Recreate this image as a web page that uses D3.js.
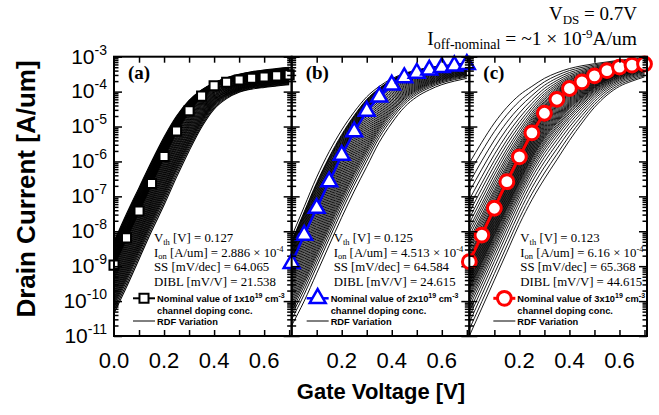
<!DOCTYPE html>
<html><head><meta charset="utf-8">
<script src="https://cdn.jsdelivr.net/npm/d3@7"></script>
<style>body{margin:0;background:#fff} svg{display:block}</style>
</head><body>
<svg id="chart" width="659" height="415"></svg>
<script>
// ---------------- data (log10 of drain current, A/um) ----------------
const gateVoltage = [0, 0.05, 0.1, 0.15, 0.2, 0.25, 0.3, 0.35, 0.4, 0.45, 0.5, 0.55, 0.6, 0.65, 0.7];

const nominalA = [-8.97, -8.19, -7.42, -6.63, -5.86, -5.13, -4.55, -4.13, -3.83, -3.73, -3.67, -3.62, -3.58, -3.55, -3.52];
const upperA   = [-8.3, -7.5, -6.75, -6.0, -5.3, -4.7, -4.25, -3.95, -3.75, -3.6, -3.5, -3.43, -3.38, -3.34, -3.3];
const lowerA   = [-10.35, -9.6, -8.8, -8.0, -7.25, -6.45, -5.7, -5.02, -4.5, -4.2, -4.02, -3.93, -3.88, -3.84, -3.8];
const rdfPosA  = [1.0, 0.94, 0.9, 0.85, 0.8, 0.76, 0.71, 0.67, 0.62, 0.58, 0.54, 0.49, 0.45, 0.41, 0.37, 0.33, 0.29, 0.25, 0.21, 0.17, 0.13, 0.09, 0.05, 0.01,
                  -0.03, -0.07, -0.11, -0.15, -0.19, -0.23, -0.27, -0.31, -0.35, -0.39, -0.43, -0.47, -0.51, -0.55, -0.59, -0.63, -0.67, -0.71, -0.75, -0.79, -0.83, -0.88, -0.94, -1.0];

const nominalB = [-8.92, -8.11, -7.34, -6.58, -5.82, -5.15, -4.56, -4.15, -3.81, -3.6, -3.47, -3.38, -3.31, -3.26, -3.22];
const upperB   = [-8.15, -7.3, -6.45, -5.72, -5.1, -4.58, -4.15, -3.85, -3.63, -3.48, -3.38, -3.31, -3.26, -3.22, -3.19];
const lowerB   = [-10.7, -10.0, -9.2, -8.4, -7.6, -6.85, -6.15, -5.45, -4.9, -4.45, -4.15, -3.95, -3.8, -3.7, -3.62];
const rdfPosB  = [1.0, 0.82, 0.78, 0.74, 0.7, 0.65, 0.6, 0.55, 0.5, 0.45, 0.4, 0.35, 0.3, 0.25, 0.2, 0.15, 0.1, 0.05, 0.0,
                  -0.04, -0.08, -0.12, -0.16, -0.2, -0.24, -0.28, -0.32, -0.36, -0.4, -0.44, -0.48, -0.52, -0.56, -0.6, -0.64, -0.68, -0.72, -0.77, -0.83, -0.9, -1.0];

const nominalC = [-8.87, -8.11, -7.34, -6.58, -5.87, -5.18, -4.62, -4.22, -3.91, -3.72, -3.55, -3.40, -3.30, -3.24, -3.21];
const upperC   = [-6.05, -5.45, -4.9, -4.45, -4.1, -3.85, -3.62, -3.46, -3.34, -3.26, -3.2, -3.15, -3.1, -3.07, -3.04];
const lowerC   = [-11.0, -10.2, -9.4, -8.6, -7.8, -7.1, -6.5, -5.95, -5.4, -4.9, -4.45, -4.1, -3.85, -3.7, -3.58];
const rdfPosC  = [1.0, 0.9, 0.8, 0.71, 0.63, 0.56, 0.5, 0.44, 0.39, 0.34, 0.3, 0.26, 0.22, 0.19, 0.16, 0.13, 0.1, 0.07, 0.05, 0.03, 0.01,
                  -0.01, -0.03, -0.05, -0.07, -0.09, -0.11, -0.13, -0.15, -0.17, -0.19, -0.21, -0.23, -0.25, -0.27, -0.29, -0.31, -0.33, -0.35,
                  -0.37, -0.39, -0.42, -0.45, -0.48, -0.52, -0.56, -0.61, -0.67, -0.74, -0.82, -0.91, -1.0];

const panelLabels = ["(a)", "(b)", "(c)"];
const dopingValues = ["1", "2", "3"];
const vthValues = ["0.127", "0.125", "0.123"];
const ionMantissa = ["2.886", "4.513", "6.16"];
const ssValues = ["64.065", "64.584", "65.368"];
const diblValues = ["21.538", "24.615", "44.615"];
const xTickLabels = [[0, 0.2, 0.4, 0.6], [0.2, 0.4, 0.6], [0.2, 0.4, 0.6]];
const xTickAll = [0.1, 0.2, 0.3, 0.4, 0.5, 0.6, 0.7];

// ---------------- layout ----------------
const plotLeft = 114, plotRight = 647, plotTop = 56.7, plotBottom = 336;
const panelW = (plotRight - plotLeft) / 3;
const svg = d3.select("#chart");
const serif = "'Liberation Serif','Times New Roman',serif";
const sans = "'Liberation Sans',Arial,sans-serif";

const y = d3.scaleLog().domain([1e-11, 1e-3]).range([plotBottom, plotTop]);

const panels = [
  {nominal: nominalA, upper: upperA, lower: lowerA, pos: rdfPosA, color: "#000", lw: 2, sym: d3.symbolSquare, size: 82, sw: 2, annX: 40, legX: 19, rw: 1.05},
  {nominal: nominalB, upper: upperB, lower: lowerB, pos: rdfPosB, color: "#0000ff", lw: 2.5, sym: d3.symbolTriangle, size: 110, sw: 2.5, annX: 42, legX: 15, rw: 0.95},
  {nominal: nominalC, upper: upperC, lower: lowerC, pos: rdfPosC, color: "#ff0000", lw: 3, sym: d3.symbolCircle, size: 150, sw: 3, annX: 51, legX: 24, rw: 0.9}
];

function richText(g, x, yb, segs, opts) {
  const t = g.append("text").attr("x", x).attr("y", yb)
    .attr("font-family", opts.family).attr("font-size", opts.size)
    .attr("font-weight", opts.weight || "normal")
    .attr("text-anchor", opts.anchor || "start").attr("fill", "#000");
  let cur = 0;
  segs.forEach(s => {
    const sh = s.shift || 0;
    t.append("tspan").attr("dy", sh - cur).attr("font-size", s.size || opts.size).text(s.t);
    cur = sh;
  });
  return t;
}

svg.append("defs").selectAll("clipPath").data(panels).join("clipPath")
  .attr("id", (d, i) => "clip" + i)
  .append("rect")
  .attr("x", (d, i) => plotLeft + i * panelW).attr("y", plotTop)
  .attr("width", panelW).attr("height", plotBottom - plotTop);

panels.forEach((p, i) => {
  const x0 = plotLeft + i * panelW, x1 = x0 + panelW;
  const x = d3.scaleLinear().domain([0, 0.71]).range([x0, x1]);
  const g = svg.append("g");
  const line = d3.line().x((d, j) => x(gateVoltage[j])).y(d => y(Math.pow(10, d))).curve(d3.curveMonotoneX);
  const clipG = g.append("g").attr("clip-path", `url(#clip${i})`);

  // RDF variation curves
  const curves = p.pos.map(w => p.nominal.map((n, j) => w >= 0 ? n + w * (p.upper[j] - n) : n - w * (p.lower[j] - n)));
  clipG.selectAll("path.rdf").data(curves).join("path").attr("class", "rdf")
    .attr("d", line).attr("fill", "none").attr("stroke", "#000").attr("stroke-width", p.rw);

  // nominal
  const lineLin = d3.line().x((d, j) => x(gateVoltage[j])).y(d => y(Math.pow(10, d)));
  clipG.append("path").attr("d", lineLin(p.nominal)).attr("fill", "none")
    .attr("stroke", p.color).attr("stroke-width", p.lw);
  g.selectAll("path.mk").data(p.nominal).join("path").attr("class", "mk")
    .attr("transform", (d, j) => `translate(${x(gateVoltage[j])},${y(Math.pow(10, d))})`)
    .attr("d", d3.symbol().type(p.sym).size(p.size))
    .attr("fill", "#fff").attr("stroke", p.color).attr("stroke-width", p.sw);

  // ticks
  const allY = y.ticks();
  const majorY = allY.filter(t => Math.abs(Math.log10(t) - Math.round(Math.log10(t))) < 1e-6);
  const minorY = allY.filter(t => !majorY.includes(t));
  const tickStyle = sel => { sel.select(".domain").remove(); sel.selectAll("line").attr("stroke", "#000").attr("stroke-width", 1.5); sel.selectAll("text").remove(); };
  g.append("g").attr("transform", `translate(${x0},0)`).call(d3.axisLeft(y).tickValues(majorY).tickSize(-8).tickFormat("")).call(tickStyle);
  g.append("g").attr("transform", `translate(${x0},0)`).call(d3.axisLeft(y).tickValues(minorY).tickSize(-4.5).tickFormat("")).call(tickStyle);
  g.append("g").attr("transform", `translate(${x1},0)`).call(d3.axisRight(y).tickValues(majorY).tickSize(-8).tickFormat("")).call(tickStyle);
  g.append("g").attr("transform", `translate(${x1},0)`).call(d3.axisRight(y).tickValues(minorY).tickSize(-4.5).tickFormat("")).call(tickStyle);
  g.append("g").attr("transform", `translate(0,${plotBottom})`).call(d3.axisBottom(x).tickValues(xTickAll).tickSize(-6).tickFormat("")).call(tickStyle);
  g.append("g").attr("transform", `translate(0,${plotTop})`).call(d3.axisTop(x).tickValues(xTickAll).tickSize(-6).tickFormat("")).call(tickStyle);

  // frame
  g.append("rect").attr("x", x0).attr("y", plotTop).attr("width", panelW).attr("height", plotBottom - plotTop)
    .attr("fill", "none").attr("stroke", "#000").attr("stroke-width", 2);

  // x tick labels
  g.selectAll("text.xl").data(xTickLabels[i]).join("text").attr("class", "xl")
    .attr("x", d => x(d)).attr("y", 368).attr("text-anchor", "middle")
    .attr("font-family", sans).attr("font-size", 22).text(d => d.toFixed(1));

  // panel label
  g.append("text").attr("x", x0 + 14).attr("y", 79).attr("font-family", serif)
    .attr("font-weight", "bold").attr("font-size", 19).text(panelLabels[i]);

  // annotation
  const ax = x0 + p.annX, fs = 12.8, ss = 8.5;
  richText(g, ax, 242, [{t: "V"}, {t: "th", size: ss, shift: 2.5}, {t: " [V] = " + vthValues[i]}], {family: serif, size: fs});
  richText(g, ax, 256.5, [{t: "I"}, {t: "on", size: ss, shift: 2.5}, {t: " [A/um] = " + ionMantissa[i] + " × 10"}, {t: "-4", size: ss, shift: -5}], {family: serif, size: fs});
  richText(g, ax, 271, [{t: "SS [mV/dec] = " + ssValues[i]}], {family: serif, size: fs});
  richText(g, ax, 285.5, [{t: "DIBL [mV/V] = " + diblValues[i]}], {family: serif, size: fs});

  // legend
  const lx0 = x0 + p.legX, lx1 = lx0 + 22;
  g.append("line").attr("x1", lx0).attr("x2", lx1).attr("y1", 298.3).attr("y2", 298.3).attr("stroke", p.color).attr("stroke-width", p.lw);
  g.append("path").attr("transform", `translate(${(lx0 + lx1) / 2},298.3)`).attr("d", d3.symbol().type(p.sym).size(p.size))
    .attr("fill", "#fff").attr("stroke", p.color).attr("stroke-width", p.sw);
  richText(g, lx1 + 2, 301.5, [{t: "Nominal value of " + dopingValues[i] + "x10"}, {t: "19", size: 7, shift: -4}, {t: " cm"}, {t: "-3", size: 7, shift: -4}], {family: sans, size: 9.3, weight: "bold"});
  g.append("text").attr("x", lx1 + 2).attr("y", 313.5).attr("font-family", sans).attr("font-size", 9.3).attr("font-weight", "bold").text("channel doping conc.");
  g.append("line").attr("x1", lx0).attr("x2", lx1).attr("y1", 321).attr("y2", 321).attr("stroke", "#000").attr("stroke-width", 1);
  g.append("text").attr("x", lx1 + 2).attr("y", 324.5).attr("font-family", sans).attr("font-size", 9.3).attr("font-weight", "bold").text("RDF Variation");
});

// y tick labels
const yExps = d3.range(-3, -12, -1);
svg.append("g").selectAll("text").data(yExps).join("text")
  .attr("x", 107).attr("y", d => y(Math.pow(10, d)) + 6.8).attr("text-anchor", "end")
  .attr("font-family", sans).attr("font-size", 21)
  .each(function(d) {
    const t = d3.select(this);
    t.append("tspan").text("10");
    t.append("tspan").attr("dy", -9).attr("font-size", 14).text(String(d));
  });

// axis titles
svg.append("text").attr("transform", "translate(35,189) rotate(-90)").attr("text-anchor", "middle")
  .attr("font-family", sans).attr("font-weight", "bold").attr("font-size", 26).text("Drain Current [A/um]");
svg.append("text").attr("x", 381).attr("y", 399).attr("text-anchor", "middle")
  .attr("font-family", sans).attr("font-weight", "bold").attr("font-size", 22).text("Gate Voltage [V]");

// top annotations
richText(svg, 637, 20, [{t: "V"}, {t: "DS", size: 13, shift: 4}, {t: " = 0.7V"}], {family: serif, size: 19, anchor: "end"});
richText(svg, 637, 45, [{t: "I"}, {t: "off-nominal", size: 14, shift: 4}, {t: " = ~1 × 10"}, {t: "-9", size: 13, shift: -7}, {t: "A/um"}], {family: serif, size: 19.5, anchor: "end"});
</script>
</body></html>
